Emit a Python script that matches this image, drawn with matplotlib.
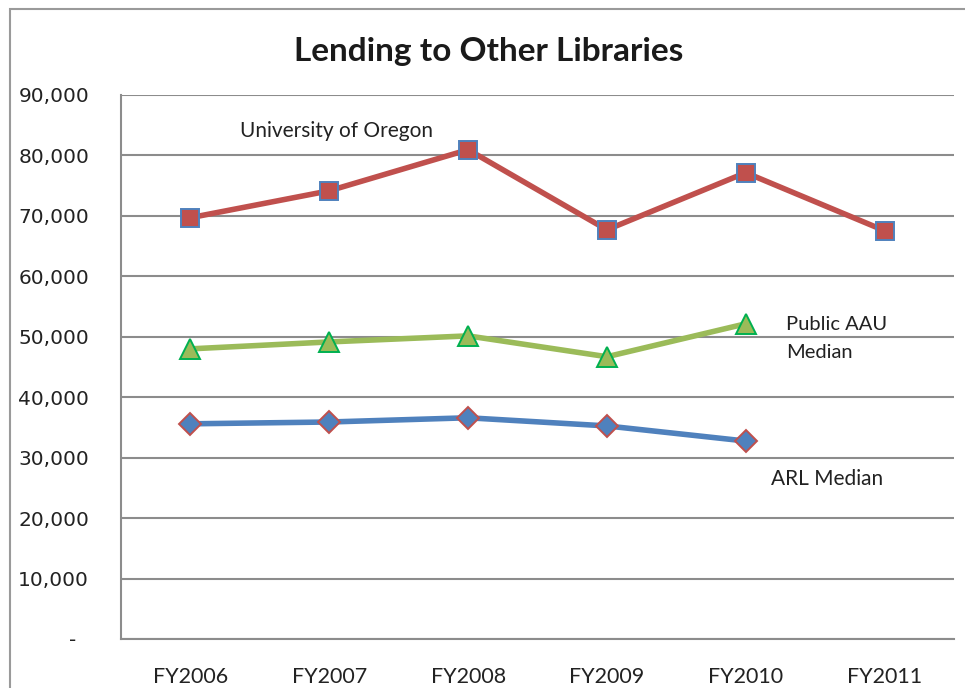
import numpy as np
import matplotlib
matplotlib.use("Agg")
import matplotlib.pyplot as plt
from matplotlib.ticker import FuncFormatter

years = ["FY2006", "FY2007", "FY2008", "FY2009", "FY2010", "FY2011"]
oregon = [69700, 74150, 80950, 67700, 77150, 67550]
aau_median = [48000, 49150, 50150, 46700, 52150]
arl_median = [35600, 35900, 36600, 35250, 32750]

fig = plt.figure(figsize=(9.65, 6.88), dpi=100)
ax = fig.add_axes([121 / 965, 1 - 639 / 688, 833 / 965, 544 / 688])

# outer chart frame (runs off the right and bottom edge)
fig.add_artist(plt.Rectangle((10 / 965, -0.1), 1.2, 1 - 9 / 688 + 0.1,
                             transform=fig.transFigure, fill=False,
                             edgecolor="#9a9a9a", linewidth=1.5))

x = np.arange(len(years))

ax.plot(x, oregon, color="#C0504D", linewidth=4, marker="s", markersize=12.5,
        markerfacecolor="#C0504D", markeredgecolor="#4F81BD", markeredgewidth=1.4,
        zorder=4)
ax.plot(x[:len(aau_median)], aau_median, color="#9BBB59", linewidth=4, marker="^",
        markersize=14, markerfacecolor="#9BBB59", markeredgecolor="#00B050",
        markeredgewidth=1.4, zorder=4)
ax.plot(x[:len(arl_median)], arl_median, color="#4F81BD", linewidth=4, marker="D",
        markersize=11, markerfacecolor="#4F81BD", markeredgecolor="#C0504D",
        markeredgewidth=1.4, zorder=4)

ax.set_xlim(-0.5, len(years) - 0.5)
ax.set_ylim(0, 90000)
ax.set_yticks(np.arange(0, 90001, 10000))
ax.yaxis.set_major_formatter(FuncFormatter(lambda v, p: "-  " if v == 0 else f"{int(v):,}"))
ax.set_xticks(x)
ax.set_xticklabels(years, fontfamily="Lato", fontsize=15.5)
for lab in ax.get_yticklabels():
    lab.set_fontfamily("DejaVu Sans")
    lab.set_fontsize(14.5)
ax.tick_params(axis="y", length=0, pad=23, colors="#222222")
ax.tick_params(axis="x", length=0, pad=20, colors="#222222")

ax.grid(axis="y", color="#8c8c8c", linewidth=1.5, zorder=1)
ax.spines["right"].set_visible(False)
ax.spines["top"].set_visible(False)
for s in ["left", "bottom"]:
    ax.spines[s].set_color("#8c8c8c")
    ax.spines[s].set_linewidth(1.5)

ax.text(0.36, 84000, "University of Oregon", fontfamily="Lato", fontsize=15,
        va="center", ha="left", color="#222222")
ax.text(4.29, 49700, "Public AAU\nMedian", fontfamily="Lato", fontsize=14.5,
        va="center", ha="left", color="#222222", linespacing=1.75)
ax.text(4.18, 26500, "ARL Median", fontfamily="Lato", fontsize=15,
        va="center", ha="left", color="#222222")

fig.text(489 / 965, 1 - 52 / 688, "Lending to Other Libraries", fontfamily="Lato",
         fontweight="bold", fontsize=24, ha="center", va="center", color="#1a1a1a")

fig.savefig("out.png", dpi=100)
